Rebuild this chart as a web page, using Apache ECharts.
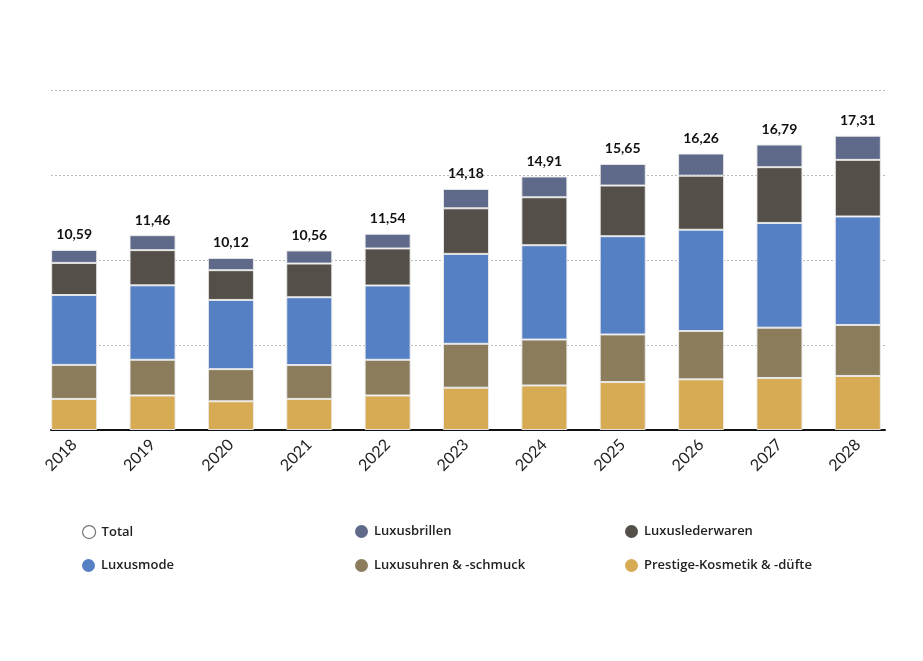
<!DOCTYPE html>
<html>
<head>
<meta charset="utf-8">
<script src="https://cdn.jsdelivr.net/npm/echarts@6/dist/echarts.min.js"></script>
<style>
html,body{margin:0;padding:0;background:#fff;}
#c{width:923px;height:661px;}
</style>
</head>
<body>
<div id="c"></div>
<script>
const years = ['2018','2019','2020','2021','2022','2023','2024','2025','2026','2027','2028'];
const totals = [10.59, 11.46, 10.12, 10.56, 11.54, 14.18, 14.91, 15.65, 16.26, 16.79, 17.31];
const kosmetik = [1.83, 2.03, 1.69, 1.83, 2.03, 2.49, 2.62, 2.82, 2.98, 3.06, 3.18];
const uhren = [2.00, 2.10, 1.89, 1.99, 2.10, 2.58, 2.70, 2.80, 2.84, 2.96, 3.00];
const mode = [4.11, 4.38, 4.07, 3.99, 4.37, 5.29, 5.55, 5.78, 5.96, 6.16, 6.38];
const leder = [1.89, 2.07, 1.75, 1.98, 2.18, 2.68, 2.82, 2.98, 3.18, 3.28, 3.33];
const brillen = [0.76, 0.88, 0.72, 0.77, 0.86, 1.14, 1.22, 1.27, 1.30, 1.33, 1.42];

const FONT = 'Lato, "Noto Sans", sans-serif';
const LFONT = '"Open Sans", Lato, sans-serif';
const C = {
  brillen: '#5f6a8a',
  leder: '#544f48',
  mode: '#5680c4',
  uhren: '#8b7c5c',
  kosmetik: '#d7ab54'
};

const chart = echarts.init(document.getElementById('c'), null, {renderer: 'canvas'});

function barSeries(name, data, color) {
  return {
    name: name, type: 'bar', stack: 'a', data: data,
    xAxisIndex: 0, yAxisIndex: 0,
    barWidth: 46,
    itemStyle: {color: color, borderColor: 'rgba(235,235,235,0.9)', borderWidth: 1},
    emphasis: {disabled: true}
  };
}

function leg(name, left, top, style) {
  const d = {name: name, itemStyle: style || {borderWidth: 0}};
  return {
    data: [d], left: left, top: top, orient: 'horizontal',
    icon: 'circle', itemWidth: 13, itemHeight: 13, itemGap: 0,
    selectedMode: false,
    textStyle: {fontFamily: LFONT, fontSize: 13, fontWeight: 600, color: '#222', padding: [0,0,0,1]}
  };
}

const option = {
  animation: false,
  backgroundColor: '#fff',
  grid: [
    {left: 35, right: 26, top: 90, bottom: 231},
    {left: 51, right: 38, top: 90, bottom: 231}
  ],
  xAxis: [
    {
      type: 'category', data: years, gridIndex: 0, boundaryGap: true,
      axisLine: {show: false}, axisTick: {show: false},
      axisLabel: {rotate: 45, fontFamily: FONT, fontSize: 16, color: '#222', margin: 12}
    },
    {
      type: 'value', gridIndex: 1, min: 0, max: 1,
      axisLine: {show: true, onZero: false, lineStyle: {color: '#111', width: 2}},
      axisTick: {show: false}, axisLabel: {show: false}, splitLine: {show: false}
    }
  ],
  yAxis: [
    {
      type: 'value', gridIndex: 0, min: 0, max: 20, interval: 5,
      axisLine: {show: false}, axisTick: {show: false}, axisLabel: {show: false},
      splitLine: {show: false}
    },
    {
      type: 'value', gridIndex: 1, min: 0, max: 20, interval: 5,
      axisLine: {show: false}, axisTick: {show: false}, axisLabel: {show: false},
      splitLine: {show: true, lineStyle: {color: '#bbb', type: [2, 2], width: 1}}
    }
  ],
  legend: [
    leg('Total', 77, 520, {color: '#fff', borderColor: '#777', borderWidth: 1.2}),
    leg('Luxusbrillen', 350, 520),
    leg('Luxuslederwaren', 620, 520),
    leg('Luxusmode', 77, 554),
    leg('Luxusuhren & -schmuck', 350, 554),
    leg('Prestige-Kosmetik & -düfte', 620, 554)
  ],
  series: [
    barSeries('Prestige-Kosmetik & -düfte', kosmetik, C.kosmetik),
    barSeries('Luxusuhren & -schmuck', uhren, C.uhren),
    barSeries('Luxusmode', mode, C.mode),
    barSeries('Luxuslederwaren', leder, C.leder),
    barSeries('Luxusbrillen', brillen, C.brillen),
    {
      name: 'Total', type: 'line', data: totals,
      xAxisIndex: 0, yAxisIndex: 0,
      symbol: 'circle', symbolSize: 0,
      itemStyle: {color: '#fff', borderColor: '#777'},
      lineStyle: {width: 0, opacity: 0},
      z: 10,
      label: {
        show: true, position: 'top', distance: 8,
        fontFamily: FONT, fontSize: 14, fontWeight: 'bold', color: '#111',
        formatter: p => p.value.toFixed(2).replace('.', ',')
      },
      emphasis: {disabled: true}
    }
  ]
};
chart.setOption(option);
</script>
</body>
</html>
